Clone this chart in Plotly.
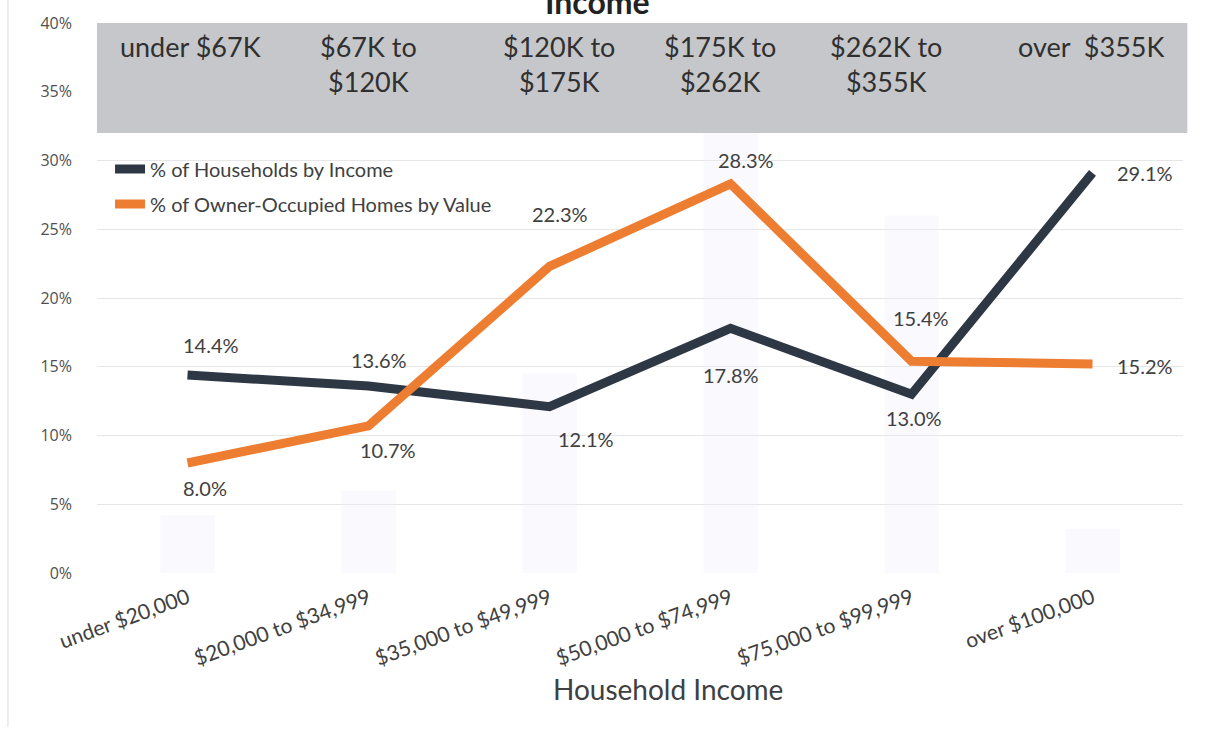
import plotly.graph_objects as go

# Household income brackets (x categories)
income_brackets = ["under $20,000", "$20,000 to $34,999", "$35,000 to $49,999",
                   "$50,000 to $74,999", "$75,000 to $99,999", "over $100,000"]

# Matching home-value brackets shown in the top band
home_value_brackets = ["under $67K", "$67K to<br>$120K", "$120K to<br>$175K",
                       "$175K to<br>$262K", "$262K to<br>$355K", "over  $355K"]

# Percent values per bracket
households_by_income = [14.4, 13.6, 12.1, 17.8, 13.0, 29.1]
homes_by_value = [8.0, 10.7, 22.3, 28.3, 15.4, 15.2]

# Faint background columns
background_columns = [4.2, 6.0, 14.5, 33.5, 26.0, 3.2]

# Label offsets (pixels) for each value label
hh_label_shift = [(23, 30), (10, 26), (36, -32), (0, -47), (2, -24), (52, 0)]
hv_label_shift = [(17, -25), (19, -24), (10, 52), (15, 24), (9, 43), (52, -2)]

DARK = "#2e3845"
ORANGE = "#ed7d31"
TEXT = "#404040"
FONT = "Lato"

fig = go.Figure()

fig.add_trace(go.Bar(
    x=income_brackets, y=[v / 100 for v in background_columns],
    marker=dict(color="rgba(236,238,252,0.28)", line=dict(width=0)),
    width=0.3, showlegend=False, hoverinfo="skip",
))

fig.add_trace(go.Scatter(
    x=income_brackets, y=[v / 100 for v in households_by_income],
    mode="lines", name="% of Households by Income",
    line=dict(color=DARK, width=9), legendgroup="a",
))
fig.add_trace(go.Scatter(
    x=income_brackets, y=[v / 100 for v in homes_by_value],
    mode="lines", name="% of Owner-Occupied Homes by Value",
    line=dict(color=ORANGE, width=9), legendgroup="b",
))

annotations = []
for i, (v, (dx, dy)) in enumerate(zip(households_by_income, hh_label_shift)):
    annotations.append(dict(x=i, y=v / 100, xref="x", yref="y", text=f"{v:.1f}%",
                            showarrow=False, xshift=dx, yshift=dy,
                            font=dict(family=FONT, size=20, color=TEXT)))
for i, (v, (dx, dy)) in enumerate(zip(homes_by_value, hv_label_shift)):
    annotations.append(dict(x=i, y=v / 100, xref="x", yref="y", text=f"{v:.1f}%",
                            showarrow=False, xshift=dx, yshift=dy,
                            font=dict(family=FONT, size=20, color=TEXT)))

# Home-value bracket labels inside the grey band
band_x = [0.017, 0.0, 0.05, -0.06, -0.14, -0.01]
for i, (lbl, dx) in enumerate(zip(home_value_brackets, band_x)):
    annotations.append(dict(x=i + dx, y=0.40, xref="x", yref="y", text=lbl,
                            showarrow=False, yanchor="top", yshift=-5,
                            font=dict(family=FONT, size=27, color="#303030")))

# Title (runs off the top edge)
annotations.append(dict(x=0.461, y=1, xref="paper", yref="paper", text="<b>Income</b>",
                        showarrow=False, yanchor="bottom", yshift=0,
                        font=dict(family=FONT, size=32, color="#222222")))

# x-axis title
annotations.append(dict(x=0.526, y=-0.21, xref="paper", yref="paper",
                        xanchor="center", yanchor="middle",
                        text="Household Income", showarrow=False,
                        font=dict(family=FONT, size=28, color=TEXT)))

fig.update_layout(
    width=1214, height=734,
    margin=dict(l=97, r=31, t=17, b=161),
    paper_bgcolor="white", plot_bgcolor="white",
    barmode="overlay",
    annotations=annotations,
    shapes=[
        dict(type="rect", xref="paper", yref="y", x0=0, x1=1.004, y0=0.32, y1=0.40,
             fillcolor="#c6c7ca", line=dict(width=0), layer="above"),
        dict(type="line", xref="paper", yref="paper", x0=-0.082, x1=-0.082, y0=-0.28, y1=1.05,
             line=dict(color="#dedede", width=1)),
    ],
    legend=dict(x=0.012, xanchor="left", y=0.77, yanchor="top",
                bgcolor="rgba(0,0,0,0)", tracegroupgap=6,
                font=dict(family=FONT, size=20, color=TEXT)),
    xaxis=dict(
        tickangle=-20, tickfont=dict(family=FONT, size=21, color=TEXT),
        showgrid=False, showline=False, zeroline=False, ticks="",
        ticklabelstandoff=8,
        range=[-0.5, 5.5],
    ),
    yaxis=dict(
        range=[0, 0.40], dtick=0.05, tickformat=".0%",
        tickfont=dict(family="Open Sans", size=16, color="#505050"),
        showgrid=True, gridcolor="#e6e6e6", gridwidth=1,
        zeroline=False, showline=False, ticklabelstandoff=24,
    ),
)

fig.write_html("out.html")
